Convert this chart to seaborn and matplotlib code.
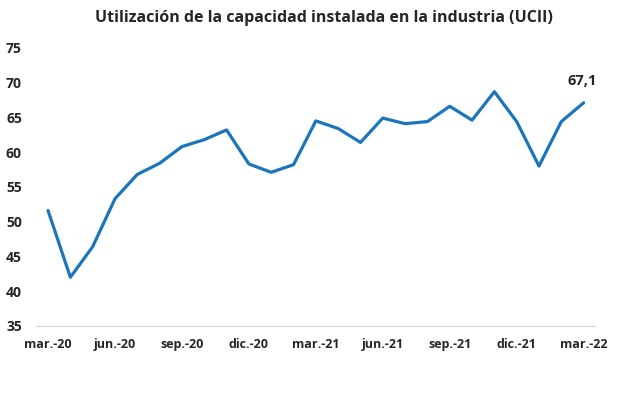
import matplotlib
matplotlib.use("Agg")
import matplotlib.pyplot as plt
import seaborn as sns
import pandas as pd

# Datos mensuales UCII (mar-20 a mar-22)
meses = ["mar.-20", "abr.-20", "may.-20", "jun.-20", "jul.-20", "ago.-20", "sep.-20",
         "oct.-20", "nov.-20", "dic.-20", "ene.-21", "feb.-21", "mar.-21", "abr.-21",
         "may.-21", "jun.-21", "jul.-21", "ago.-21", "sep.-21", "oct.-21", "nov.-21",
         "dic.-21", "ene.-22", "feb.-22", "mar.-22"]
ucii = [51.6, 42.0, 46.4, 53.3, 56.8, 58.4, 60.8, 61.8, 63.2, 58.3, 57.1, 58.2, 64.5,
        63.4, 61.4, 64.9, 64.1, 64.4, 66.6, 64.6, 68.7, 64.4, 58.0, 64.4, 67.1]
yticks = [35, 40, 45, 50, 55, 60, 65, 70, 75]

df = pd.DataFrame({"mes": meses, "ucii": ucii})
df["pos"] = range(len(df))

sns.set_style("white")
plt.rcParams['font.family'] = ['Open Sans', 'DejaVu Sans']

fig = plt.figure(figsize=(6.17, 3.96), dpi=100)
ax = fig.add_axes([0.058, 0.177, 0.906, 0.702])

sns.lineplot(data=df, x="pos", y="ucii", ax=ax, color="#1b75bc", linewidth=2.3)

ax.set_xlim(-0.55, 24.5)
ax.set_ylim(35, 75)
ax.set_yticks(yticks)
ax.set_xticks(df["pos"][::3])
ax.set_xticklabels(df["mes"][::3])
ax.set_xlabel("")
ax.set_ylabel("")

for s in ["top", "right", "left"]:
    ax.spines[s].set_visible(False)
ax.spines["bottom"].set_color("#d9d9d9")
ax.tick_params(axis="both", length=0, labelcolor="#262626")
ax.tick_params(axis="x", labelsize=9, pad=9)
ax.tick_params(axis="y", labelsize=10, pad=10)
for lab in ax.get_xticklabels() + ax.get_yticklabels():
    lab.set_fontweight("bold")

ultimo = df.iloc[-1]
ax.annotate(f"{ultimo['ucii']:.1f}".replace(".", ","), (ultimo["pos"], ultimo["ucii"]),
            xytext=(-1, 11), textcoords="offset points", ha="center", va="bottom",
            fontsize=10.5, fontweight="bold", color="#262626")

fig.suptitle("Utilización de la capacidad instalada en la industria (UCII)",
             x=0.525, y=0.975, fontsize=11.5, fontweight="bold", color="#262626")

fig.savefig("out.png", dpi=100)
